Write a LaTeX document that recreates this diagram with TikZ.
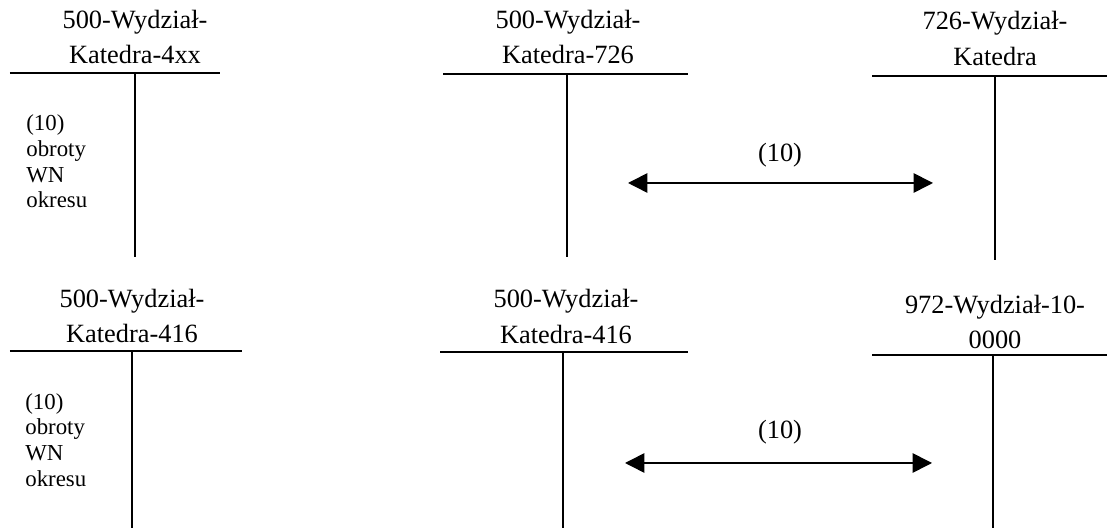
\documentclass[tikz,border=0pt]{standalone}
\usepackage{fontspec}
\setmainfont{Liberation Serif}
\usetikzlibrary{positioning,arrows.meta}

\begin{document}
\begin{tikzpicture}[
    acctTitle/.style={align=center, inner sep=0pt, font=\fontsize{15}{20}\selectfont},
    sideNote/.style={align=left, anchor=west, inner sep=0pt, font=\fontsize{13}{14.6}\selectfont},
    tLine/.style={line width=0.9pt},
    flowArrow/.style={{Triangle[length=11pt,width=11pt]}-{Triangle[length=11pt,width=11pt]}, line width=0.9pt}
]
    \useasboundingbox (0,0) rectangle (22.14,10.6);

    % upper row
    \node[acctTitle] (titleA) at (2.7, 9.86) {500-Wydział-\\Katedra-4xx};
    \draw[tLine] (0.2, 9.14) -- (4.4, 9.14);
    \draw[tLine] (2.7, 9.14) -- (2.7, 5.46);
    \node[sideNote] (noteA) at (0.52, 7.37) {(10)\\obroty\\WN\\okresu};

    \node[acctTitle] (titleB) at (11.36, 9.86) {500-Wydział-\\Katedra-726};
    \draw[tLine] (8.86, 9.12) -- (13.76, 9.12);
    \draw[tLine] (11.34, 9.12) -- (11.34, 5.46);

    \node[acctTitle] (titleC) at (19.9, 9.83) {726-Wydział-\\Katedra};
    \draw[tLine] (17.44, 9.08) -- (22.14, 9.08);
    \draw[tLine] (19.9, 9.08) -- (19.9, 5.4);

    \coordinate (arrA-l) at (12.56, 6.94);
    \coordinate (arrA-r) at (18.66, 6.94);
    \draw[flowArrow] (arrA-l) -- (arrA-r);
    \node[acctTitle] (lblA) at (15.6, 7.5) {(10)};

    % lower row
    \node[acctTitle] (titleD) at (2.64, 4.28) {500-Wydział-\\Katedra-416};
    \draw[tLine] (0.2, 3.58) -- (4.84, 3.58);
    \draw[tLine] (2.64, 3.58) -- (2.64, 0.04);
    \node[sideNote] (noteD) at (0.5, 1.8) {(10)\\obroty\\WN\\okresu};

    \node[acctTitle] (titleE) at (11.32, 4.27) {500-Wydział-\\Katedra-416};
    \draw[tLine] (8.8, 3.56) -- (13.76, 3.56);
    \draw[tLine] (11.26, 3.56) -- (11.26, 0.04);

    \node[acctTitle] (titleF) at (19.9, 4.16) {972-Wydział-10-\\0000};
    \draw[tLine] (17.44, 3.5) -- (22.14, 3.5);
    \draw[tLine] (19.86, 3.5) -- (19.86, 0.04);

    \coordinate (arrD-l) at (12.5, 1.34);
    \coordinate (arrD-r) at (18.64, 1.34);
    \draw[flowArrow] (arrD-l) -- (arrD-r);
    \node[acctTitle] (lblD) at (15.6, 1.96) {(10)};
\end{tikzpicture}
\end{document}
